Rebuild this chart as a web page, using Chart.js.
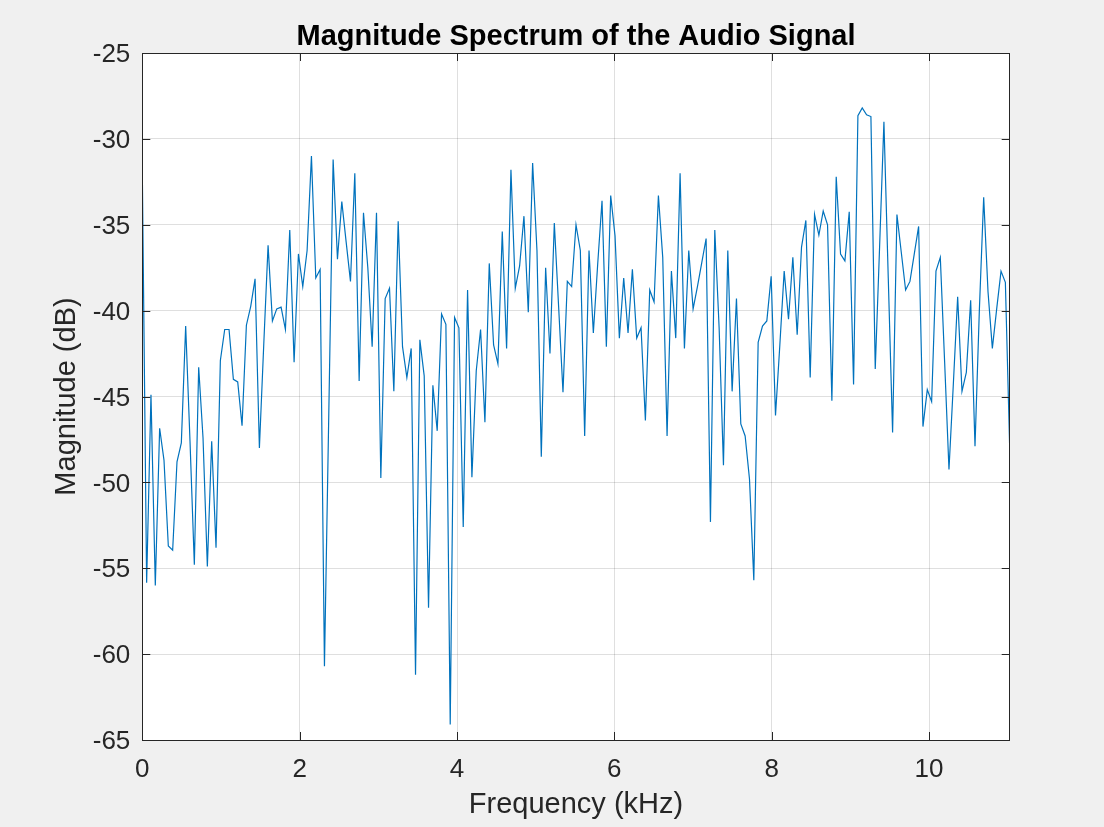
<!DOCTYPE html>
<html lang="en">
<head>
    <meta charset="UTF-8">
    <title>Magnitude Spectrum of the Audio Signal</title>
    <script src="https://cdn.jsdelivr.net/npm/chart.js@4.4.1/dist/chart.umd.min.js"></script>
    <style>
        html, body {
            margin: 0;
            padding: 0;
            background-color: #f0f0f0;
            overflow: hidden;
        }
        #spectrumChart {
            display: block;
        }
    </style>
</head>
<body>
    <canvas id="spectrumChart" width="1104" height="827"></canvas>

    <script>
        // FFT bin spacing: 22.05 kHz sample rate, 400-point FFT -> 201 bins up to Nyquist
        const sampleRateKHz = 22.05;
        const fftSize = 400;

        // magnitude per bin in dB
        const magnitudeDb = [
            -31.9, -55.85, -44.9, -56.0, -46.85, -48.7, -53.7, -53.95, -48.8, -47.7,
            -40.9, -47.6, -54.8, -43.3, -47.4, -54.9, -47.6, -53.8, -42.9, -41.1,
            -41.1, -44.0, -44.15, -46.7, -40.85, -39.75, -38.15, -48.0, -42.0, -36.2,
            -40.6, -39.9, -39.8, -41.1, -35.3, -43.0, -36.7, -38.6, -36.5, -31.0,
            -38.1, -37.6, -60.7, -46.0, -31.2, -37.0, -33.65, -36.0, -38.3, -32.0,
            -44.1, -34.3, -37.5, -42.1, -34.3, -49.75, -39.3, -38.7, -44.7, -34.8,
            -42.1, -43.9, -42.2, -61.2, -41.7, -43.8, -57.3, -44.35, -47.0, -40.2,
            -40.8, -64.1, -40.4, -41.0, -52.6, -38.8, -49.7, -43.5, -41.1, -46.5,
            -37.25, -42.0, -43.1, -35.4, -42.2, -31.8, -38.7, -37.4, -34.5, -40.1,
            -31.4, -36.5, -48.5, -37.5, -42.5, -34.9, -39.8, -44.75, -38.3, -38.6,
            -35.0, -36.5, -47.3, -36.5, -41.3, -37.3, -33.6, -42.1, -33.3, -35.65,
            -41.6, -38.1, -41.3, -37.6, -41.6, -41.0, -46.4, -38.8, -39.5, -33.3,
            -36.9, -47.3, -37.7, -41.6, -32.0, -42.2, -36.5, -39.9, -38.6, -37.2,
            -35.8, -52.3, -35.3, -41.0, -49.0, -36.5, -44.7, -39.3, -46.6, -47.3,
            -49.8, -55.7, -41.85, -40.9, -40.6, -38.0, -46.1, -42.0, -37.7, -40.5,
            -36.9, -41.4, -36.3, -34.75, -43.9, -34.4, -35.6, -34.2, -35.0, -45.25,
            -32.2, -36.7, -37.1, -34.25, -44.3, -28.65, -28.2, -28.6, -28.7, -43.4,
            -36.3, -29.0, -38.1, -47.1, -34.4, -36.6, -38.8, -38.3, -36.7, -35.1,
            -46.75, -44.6, -45.3, -37.7, -36.9, -43.0, -49.25, -44.3, -39.2, -44.7,
            -43.6, -39.4, -47.9, -40.0, -33.4, -38.9, -42.2, -39.9, -37.7, -38.35,
            -48.0
        ];

        // bin centre frequencies in kHz
        const freqKHz = magnitudeDb.map((_, k) => k * sampleRateKHz / fftSize);

        const xTicks = [0, 2, 4, 6, 8, 10];
        const yTicks = [-65, -60, -55, -50, -45, -40, -35, -30, -25];
        const chartTitle = 'Magnitude Spectrum of the Audio Signal';

        const axisColor = '#262626';
        const fontFamily = '"Liberation Sans", Arial, Helvetica, sans-serif';

        // white plot area, then box + inward ticks + title centred on the axes (matlab style)
        const axesBox = {
            id: 'axesBox',
            beforeDraw(chart) {
                const {ctx, chartArea: a} = chart;
                ctx.save();
                ctx.fillStyle = '#ffffff';
                ctx.fillRect(a.left, a.top, a.right - a.left, a.bottom - a.top);
                ctx.restore();
            },
            afterDraw(chart) {
                const {ctx, chartArea: a, scales} = chart;
                const len = 8;
                ctx.save();
                ctx.strokeStyle = axisColor;
                ctx.lineWidth = 1;
                ctx.beginPath();
                xTicks.forEach(v => {
                    const px = Math.round(scales.x.getPixelForValue(v)) + 0.5;
                    ctx.moveTo(px, a.bottom); ctx.lineTo(px, a.bottom - len);
                    ctx.moveTo(px, a.top); ctx.lineTo(px, a.top + len);
                });
                yTicks.forEach(v => {
                    const py = Math.round(scales.y.getPixelForValue(v)) + 0.5;
                    ctx.moveTo(a.left, py); ctx.lineTo(a.left + len, py);
                    ctx.moveTo(a.right, py); ctx.lineTo(a.right - len, py);
                });
                ctx.stroke();
                ctx.strokeRect(Math.round(a.left) + 0.5, Math.round(a.top) + 0.5,
                    Math.round(a.right - a.left), Math.round(a.bottom - a.top));

                ctx.fillStyle = '#000000';
                ctx.font = 'bold 29px ' + fontFamily;
                ctx.textAlign = 'center';
                ctx.textBaseline = 'middle';
                ctx.fillText(chartTitle, (a.left + a.right) / 2, a.top - 16);
                ctx.restore();
            }
        };

        const ctx = document.getElementById('spectrumChart').getContext('2d');
        const spectrumChart = new Chart(ctx, {
            type: 'line',
            data: {
                datasets: [{
                    label: 'Magnitude',
                    data: freqKHz.map((f, i) => ({x: f, y: magnitudeDb[i]})),
                    borderColor: '#0072BD',
                    borderWidth: 1.2,
                    pointRadius: 0,
                    tension: 0,
                    fill: false
                }]
            },
            options: {
                responsive: false,
                animation: false,
                devicePixelRatio: 1,
                layout: {
                    padding: {left: 0, right: 94.3, top: 53, bottom: 0}
                },
                plugins: {
                    legend: {display: false},
                    tooltip: {enabled: false},
                    title: {display: false}
                },
                scales: {
                    x: {
                        type: 'linear',
                        min: 0,
                        max: sampleRateKHz / 2,
                        afterFit: s => { s.height = 87; },
                        afterBuildTicks: s => { s.ticks = xTicks.map(v => ({value: v})); },
                        ticks: {
                            color: axisColor,
                            font: {family: fontFamily, size: 26},
                            padding: 14,
                            maxRotation: 0,
                            autoSkip: false
                        },
                        grid: {color: 'rgba(38,38,38,0.15)', drawTicks: false},
                        border: {display: false},
                        title: {
                            display: true,
                            text: 'Frequency (kHz)',
                            color: axisColor,
                            font: {family: fontFamily, size: 29},
                            padding: {top: 0, bottom: 5}
                        }
                    },
                    y: {
                        type: 'linear',
                        min: -65,
                        max: -25,
                        afterFit: s => { s.width = 142.3; },
                        afterBuildTicks: s => { s.ticks = yTicks.map(v => ({value: v})); },
                        ticks: {
                            color: axisColor,
                            font: {family: fontFamily, size: 26},
                            padding: 12,
                            labelOffset: 2
                        },
                        grid: {color: 'rgba(38,38,38,0.15)', drawTicks: false},
                        border: {display: false},
                        title: {
                            display: true,
                            text: 'Magnitude (dB)',
                            color: axisColor,
                            font: {family: fontFamily, size: 29},
                            padding: {top: 50, bottom: 0}
                        }
                    }
                }
            },
            plugins: [axesBox]
        });
    </script>
</body>
</html>
